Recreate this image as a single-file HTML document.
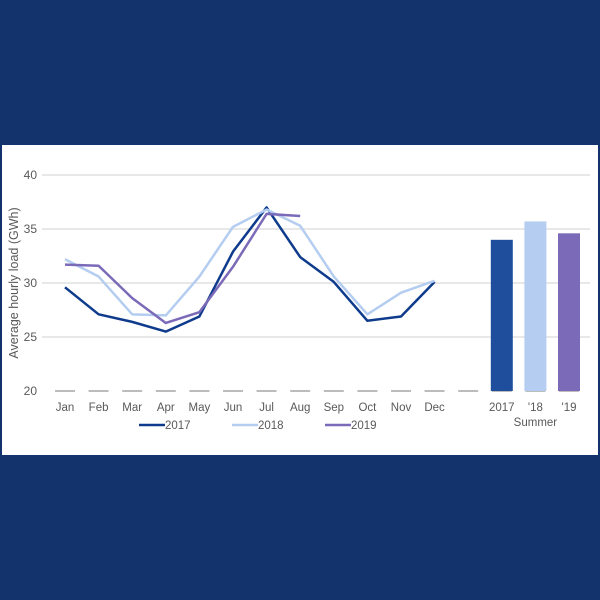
<!DOCTYPE html>
<html><head><meta charset="utf-8"><style>
body{margin:0;width:600px;height:600px;background:#12336b;font-family:"Liberation Sans",sans-serif;}
svg{display:block}
</style></head><body>
<svg width="600" height="600">
<rect x="0" y="0" width="600" height="600" fill="#12336b"/>
<rect x="2" y="145" width="596" height="310" fill="#ffffff"/>
<g id="grid"></g><g id="plot"></g>
</svg>
<script>
const months=["Jan","Feb","Mar","Apr","May","Jun","Jul","Aug","Sep","Oct","Nov","Dec"];
const s2017=[29.6,27.1,26.4,25.5,26.9,32.9,37.0,32.4,30.1,26.5,26.9,30.1];
const s2018=[32.2,30.6,27.1,27.0,30.6,35.2,36.8,35.3,30.6,27.1,29.1,30.2];
const s2019=[31.7,31.6,28.6,26.3,27.3,31.5,36.4,36.2];
const summerLabels=["2017","'18","'19"];
const summerValues=[34.0,35.7,34.6];
const yTicks=[20,25,30,35,40];
const ns="http://www.w3.org/2000/svg";
const y=v=>391-(v-20)*10.8;
const x=i=>65+i*33.6;
const g=document.getElementById('grid'),p=document.getElementById('plot');
function mk(tag,attrs,parent,text){const e=document.createElementNS(ns,tag);for(const k in attrs)e.setAttribute(k,attrs[k]);if(text!==undefined)e.textContent=text;parent.appendChild(e);return e;}
yTicks.forEach(t=>{
 if(t>20){const l=mk('line',{x1:42,x2:590,y1:y(t),y2:y(t),stroke:'#d9d9d9','stroke-width':1.2},g);
 
 }
 const tx=mk('text',{x:37,y:y(t)+4,'text-anchor':'end','font-size':12,fill:'#595959'},g,String(t));
 
 
});
for(let i=0;i<16;i++){const d=mk('line',{x1:x(i)-10,x2:x(i)+10,y1:391,y2:391,stroke:'#a6a6a6','stroke-width':1.5},g);
 
 }
const yt=mk('text',{x:0,y:0,transform:'translate(18,283) rotate(-90)','text-anchor':'middle','font-size':12.5,fill:'#595959'},g,'Average hourly load (GWh)');


months.forEach((m,i)=>{const t=mk('text',{x:x(i),y:411,'text-anchor':'middle','font-size':11.5,fill:'#595959'},g,m);
 
 });
const colors=['#0f3b8c','#b4cdf0','#7b6ab8'];
const barColors=['#1f4e9c','#b4cdf0','#7b6ab8'];
[s2017,s2018,s2019].forEach((s,k)=>{
 const pl=mk('polyline',{points:s.map((v,i)=>x(i)+','+y(v)).join(' '),fill:'none',stroke:colors[k],'stroke-width':2.5,'stroke-linejoin':'round'},p);
 
 
});
summerValues.forEach((v,k)=>{
 const cx=x(13+k);
 const r=mk('rect',{x:cx-11,y:y(v),width:22,height:391-y(v),fill:barColors[k]},p);
 
 
 const t=mk('text',{x:cx,y:411,'text-anchor':'middle','font-size':11.5,fill:'#595959'},p,summerLabels[k]);
 
 
});
const st=mk('text',{x:x(14),y:426,'text-anchor':'middle','font-size':11.5,fill:'#595959'},p,'Summer');


['2017','2018','2019'].forEach((n,k)=>{
 const lx=139+k*93;
 const l=mk('line',{x1:lx,x2:lx+26,y1:425,y2:425,stroke:colors[k],'stroke-width':2.5},p);
 
 
 const t=mk('text',{x:lx+26,y:429,'font-size':11.5,fill:'#595959'},p,n);
 
 
});
</script>
</body></html>
